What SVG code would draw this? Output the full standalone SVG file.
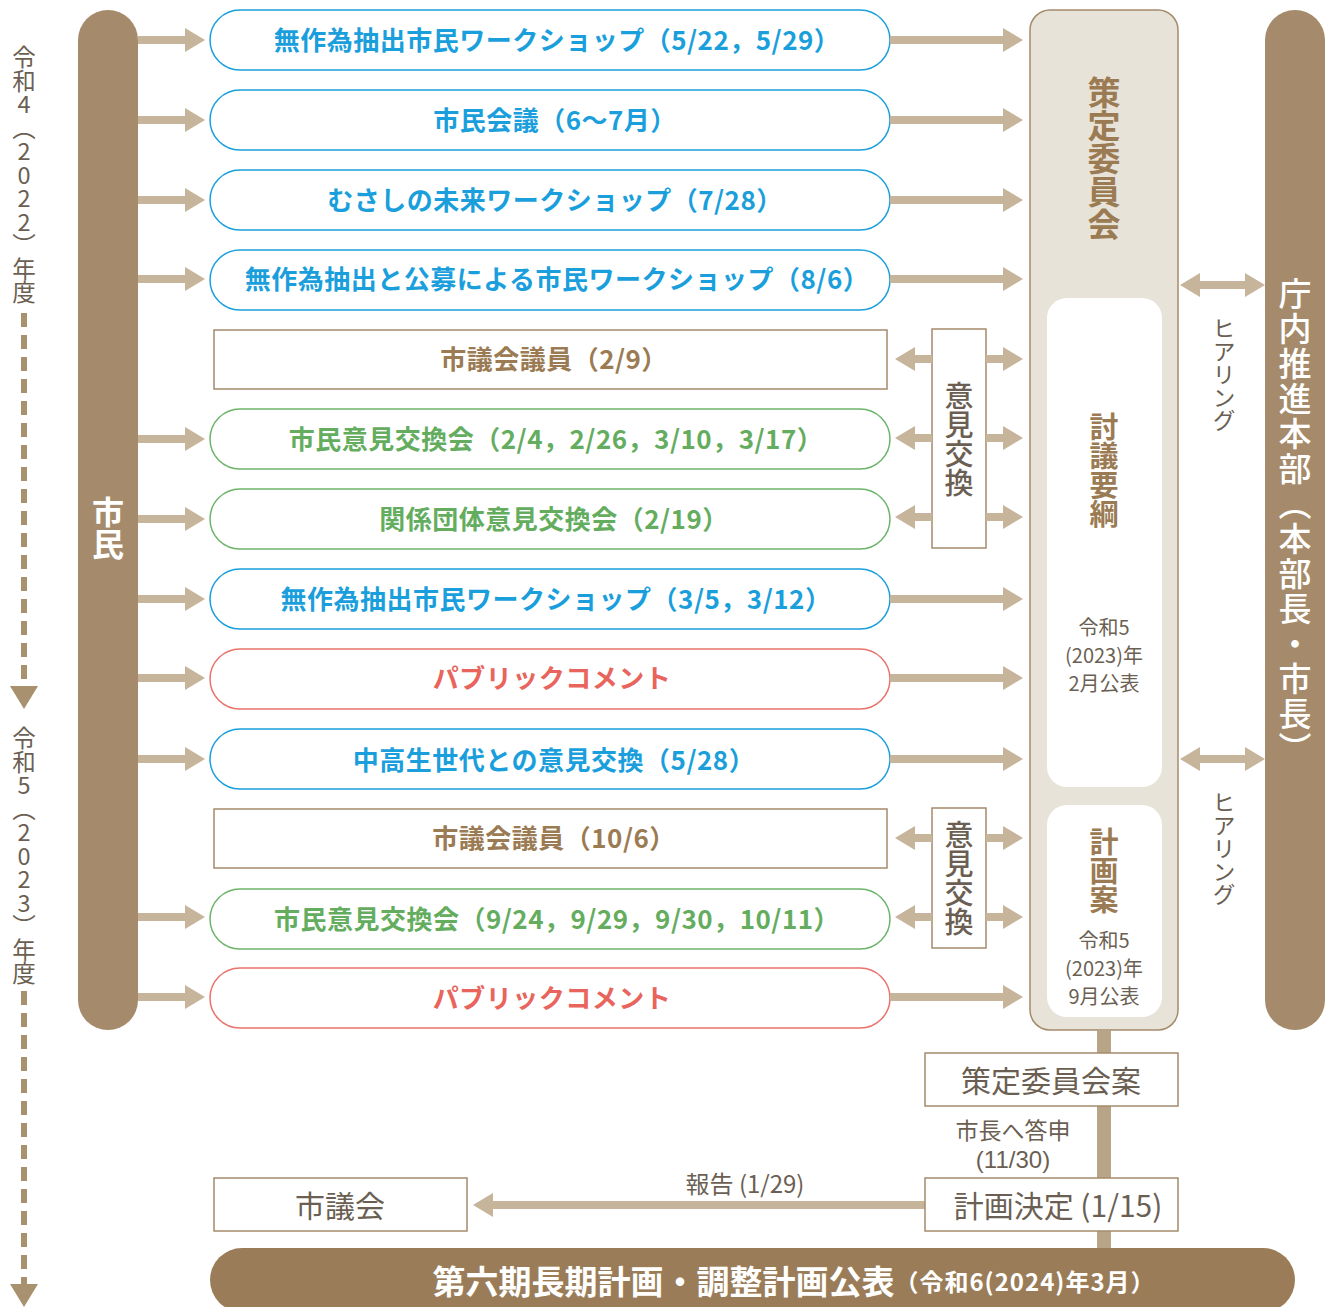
<svg xmlns="http://www.w3.org/2000/svg" width="1330" height="1307" viewBox="0 0 1330 1307">
<style>
text{font-family:"Noto Sans CJK JP","Noto Sans",sans-serif}
.pill{fill:#fff;stroke-width:1.5}
.b{stroke:#1a9fdc}.bt{fill:#1a9fdc}
.g{stroke:#6db46a}.gt{fill:#64ad5f}
.r{stroke:#e9736b}.rt{fill:#e8645c}
.sq{fill:#fff;stroke:#a58b6b;stroke-width:1.5}
.bw{fill:#9b7b53}
.pt{font-size:26px;font-weight:700;text-anchor:middle;dominant-baseline:central;letter-spacing:0.5px}
.gray{fill:#6b5f53}
.vt{writing-mode:vertical-rl;text-orientation:upright;text-anchor:middle}
.arr{stroke:#c6b49b;stroke-width:8;fill:none;marker-end:url(#ah)}
.darr{stroke:#c6b49b;stroke-width:8;fill:none;marker-end:url(#ah);marker-start:url(#ah)}
.box{font-size:30px;text-anchor:middle;dominant-baseline:central;fill:#6b5f53}
</style>
<defs>
<marker id="ah" markerUnits="userSpaceOnUse" markerWidth="22" markerHeight="26" viewBox="0 -13 22 26" refX="0" refY="0" orient="auto-start-reverse">
<path d="M0,-12 L20,0 L0,12 z" fill="#c6b49b"/>
</marker>
<marker id="th" markerUnits="userSpaceOnUse" markerWidth="30" markerHeight="30" viewBox="0 -15 30 30" refX="0" refY="0" orient="auto">
<path d="M0,-14 L23,0 L0,14 z" fill="#a8916f"/>
</marker>
</defs>

<g id="timeline">
<text class="vt gray" x="24" y="175" style="font-size:23.5px">令和4（2022）年度</text>
<line x1="24" y1="313" x2="24" y2="686" stroke="#a8916f" stroke-width="6" stroke-dasharray="14 8" marker-end="url(#th)"/>
<text class="vt gray" x="24" y="856" style="font-size:23.5px">令和5（2023）年度</text>
<line x1="24" y1="991" x2="24" y2="1284" stroke="#a8916f" stroke-width="6" stroke-dasharray="14 8" marker-end="url(#th)"/>
</g>

<g id="shimin">
<rect x="78" y="10" width="60" height="1020" rx="30" fill="#a58b6b"/>
<text class="vt" x="108" y="528" style="font-size:32px;font-weight:700;fill:#fff">市民</text>
</g>

<g id="honbu">
<rect x="1265" y="10" width="60" height="1020" rx="30" fill="#a58b6b"/>
<text class="vt" x="1295" y="522" style="font-size:33px;font-weight:500;fill:#fff;letter-spacing:2px">庁内推進本部（本部長・市長）</text>
</g>

<g id="iinkai">
<rect x="1030" y="10" width="148" height="1020" rx="20" fill="#e8e3d8" stroke="#a58b6b" stroke-width="1.5"/>
<text class="vt" x="1104" y="158" style="font-size:33px;font-weight:700;fill:#9b7b53">策定委員会</text>
</g>
<g id="tougi">
<rect x="1047" y="298" width="115" height="489" rx="20" fill="#fff"/>
<text class="vt" x="1104" y="470" style="font-size:29px;font-weight:700;fill:#9b7b53">討議要綱</text>
<text class="gray" x="1104" y="626" font-size="20" text-anchor="middle" dominant-baseline="central">令和5</text>
<text class="gray" x="1104" y="654" font-size="20" text-anchor="middle" dominant-baseline="central">(2023)年</text>
<text class="gray" x="1104" y="682" font-size="20" text-anchor="middle" dominant-baseline="central">2月公表</text>
</g>
<g id="keikakuan">
<rect x="1047" y="805" width="115" height="212" rx="20" fill="#fff"/>
<text class="vt" x="1104" y="871" style="font-size:29px;font-weight:700;fill:#9b7b53">計画案</text>
<text class="gray" x="1104" y="939" font-size="20" text-anchor="middle" dominant-baseline="central">令和5</text>
<text class="gray" x="1104" y="967" font-size="20" text-anchor="middle" dominant-baseline="central">(2023)年</text>
<text class="gray" x="1104" y="995" font-size="20" text-anchor="middle" dominant-baseline="central">9月公表</text>
</g>

<g id="hearing">
<text class="vt gray" x="1224" y="374" style="font-size:23px">ヒアリング</text>
<text class="vt gray" x="1224" y="848" style="font-size:23px">ヒアリング</text>
</g>

<g id="nodes">
<g id="n1"><rect class="pill b" x="210" y="10" width="680" height="60" rx="30"/><text class="pt bt" x="557" y="38">無作為抽出市民ワークショップ（5/22，5/29）</text></g>
<g id="n2"><rect class="pill b" x="210" y="90" width="680" height="60" rx="30"/><text class="pt bt" x="555" y="118">市民会議（6～7月）</text></g>
<g id="n3"><rect class="pill b" x="210" y="170" width="680" height="60" rx="30"/><text class="pt bt" x="555" y="198">むさしの未来ワークショップ（7/28）</text></g>
<g id="n4"><rect class="pill b" x="210" y="250" width="680" height="60" rx="30"/><text class="pt bt" x="557" y="277">無作為抽出と公募による市民ワークショップ（8/6）</text></g>
<g id="n5"><rect class="sq" x="214" y="330" width="673" height="59"/><text class="pt bw" x="554" y="357">市議会議員（2/9）</text></g>
<g id="n6"><rect class="pill g" x="210" y="409" width="680" height="60" rx="30"/><text class="pt gt" x="556" y="437">市民意見交換会（2/4，2/26，3/10，3/17）</text></g>
<g id="n7"><rect class="pill g" x="210" y="489" width="680" height="60" rx="30"/><text class="pt gt" x="554" y="517">関係団体意見交換会（2/19）</text></g>
<g id="n8"><rect class="pill b" x="210" y="569" width="680" height="60" rx="30"/><text class="pt bt" x="556" y="597">無作為抽出市民ワークショップ（3/5，3/12）</text></g>
<g id="n9"><rect class="pill r" x="210" y="649" width="680" height="60" rx="30"/><text class="pt rt" x="552" y="676">パブリックコメント</text></g>
<g id="n10"><rect class="pill b" x="210" y="729" width="680" height="60" rx="30"/><text class="pt bt" x="554" y="758">中高生世代との意見交換（5/28）</text></g>
<g id="n11"><rect class="sq" x="214" y="809" width="673" height="59"/><text class="pt bw" x="554" y="836">市議会議員（10/6）</text></g>
<g id="n12"><rect class="pill g" x="210" y="889" width="680" height="60" rx="30"/><text class="pt gt" x="557" y="917">市民意見交換会（9/24，9/29，9/30，10/11）</text></g>
<g id="n13"><rect class="pill r" x="210" y="968" width="680" height="60" rx="30"/><text class="pt rt" x="552" y="996">パブリックコメント</text></g>
<g id="iken1"><rect class="sq" x="932" y="329" width="54" height="219"/><text class="vt gray" x="959" y="439" style="font-size:29px;font-weight:500">意見交換</text></g>
<g id="iken2"><rect class="sq" x="932" y="808" width="54" height="140"/><text class="vt gray" x="959" y="878" style="font-size:29px;font-weight:500">意見交換</text></g>
</g>

<g id="connectors">
<line class="arr" x1="138" y1="40" x2="185" y2="40"/>
<line class="arr" x1="138" y1="120" x2="185" y2="120"/>
<line class="arr" x1="138" y1="200" x2="185" y2="200"/>
<line class="arr" x1="138" y1="279" x2="185" y2="279"/>
<line class="arr" x1="138" y1="439" x2="185" y2="439"/>
<line class="arr" x1="138" y1="519" x2="185" y2="519"/>
<line class="arr" x1="138" y1="599" x2="185" y2="599"/>
<line class="arr" x1="138" y1="678" x2="185" y2="678"/>
<line class="arr" x1="138" y1="759" x2="185" y2="759"/>
<line class="arr" x1="138" y1="917" x2="185" y2="917"/>
<line class="arr" x1="138" y1="997" x2="185" y2="997"/>
<line class="arr" x1="890" y1="40" x2="1003" y2="40"/>
<line class="arr" x1="890" y1="120" x2="1003" y2="120"/>
<line class="arr" x1="890" y1="200" x2="1003" y2="200"/>
<line class="arr" x1="890" y1="279" x2="1003" y2="279"/>
<line class="arr" x1="890" y1="599" x2="1003" y2="599"/>
<line class="arr" x1="890" y1="678" x2="1003" y2="678"/>
<line class="arr" x1="890" y1="759" x2="1003" y2="759"/>
<line class="arr" x1="890" y1="997" x2="1003" y2="997"/>
<line class="arr" x1="986" y1="359" x2="1003" y2="359"/>
<line class="arr" x1="986" y1="438" x2="1003" y2="438"/>
<line class="arr" x1="986" y1="517" x2="1003" y2="517"/>
<line class="arr" x1="986" y1="838" x2="1003" y2="838"/>
<line class="arr" x1="986" y1="917" x2="1003" y2="917"/>
<line class="arr" x1="932" y1="359" x2="915" y2="359"/>
<line class="arr" x1="932" y1="438" x2="915" y2="438"/>
<line class="arr" x1="932" y1="517" x2="915" y2="517"/>
<line class="arr" x1="932" y1="838" x2="915" y2="838"/>
<line class="arr" x1="932" y1="917" x2="915" y2="917"/>
<line class="darr" x1="1200" y1="285" x2="1245" y2="285"/>
<line class="darr" x1="1200" y1="759" x2="1245" y2="759"/>
<line x1="1104" y1="1030" x2="1104" y2="1252" stroke="#b8a587" stroke-width="14"/>
<line class="arr" x1="925" y1="1205" x2="493" y2="1205"/>
</g>

<g id="bottom">
<g id="an"><rect class="sq" x="925" y="1053" width="253" height="53"/><text class="box" x="1051" y="1079">策定委員会案</text></g>
<text class="gray" x="1013" y="1129" font-size="23" text-anchor="middle" dominant-baseline="central">市長へ答申</text>
<text class="gray" x="1013" y="1159" font-size="24" text-anchor="middle" dominant-baseline="central" style="font-family:'Liberation Sans',sans-serif">(11/30)</text>
<g id="kettei"><rect class="sq" x="925" y="1178" width="253" height="53"/><text class="box" x="1058" y="1204">計画決定 (1/15)</text></g>
<g id="shigikai"><rect class="sq" x="214" y="1178" width="253" height="53"/><text class="box" x="340" y="1204">市議会</text></g>
<text class="gray" x="745" y="1182" font-size="24" text-anchor="middle" dominant-baseline="central">報告 (1/29)</text>
<g id="kohyo"><rect x="210" y="1248" width="1085" height="64" rx="32" fill="#9a7d58"/>
<text x="794" y="1280" text-anchor="middle" dominant-baseline="central" fill="#fff" font-weight="700"><tspan font-size="33">第六期長期計画・調整計画公表</tspan><tspan font-size="24" letter-spacing="1">（令和6(2024)年3月）</tspan></text></g>
</g>
</svg>
